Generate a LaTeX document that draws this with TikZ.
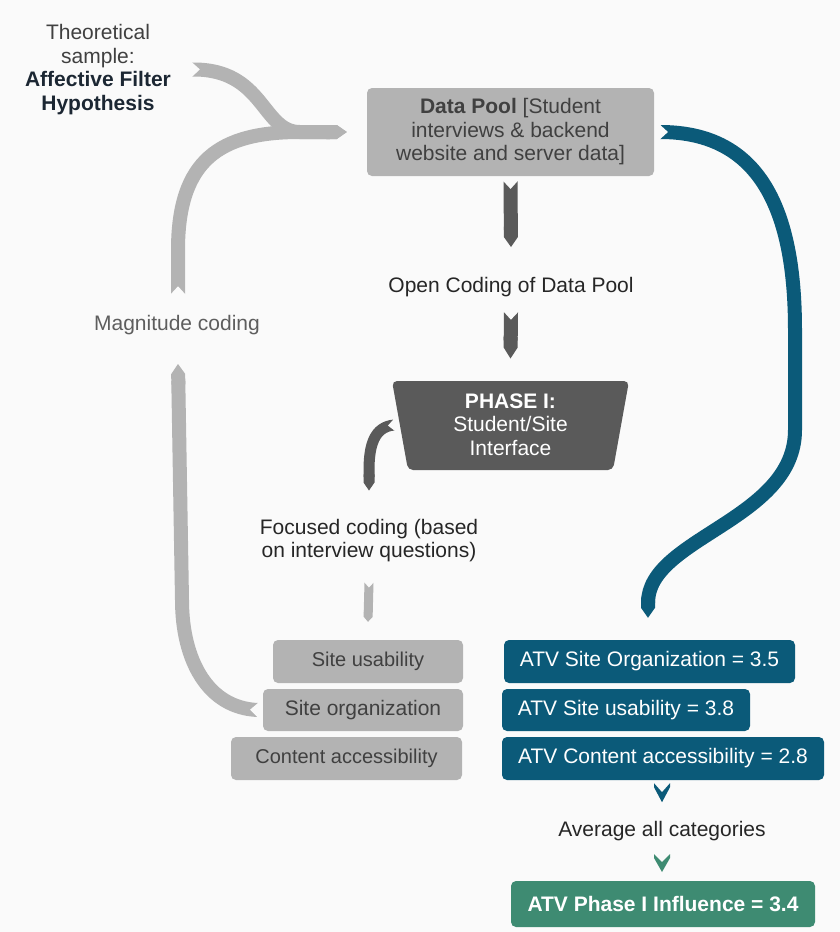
\documentclass[tikz,border=0pt]{standalone}
\usepackage{fontspec}
\setmainfont{Liberation Sans}
\usetikzlibrary{arrows.meta,decorations.markings}

\definecolor{bgc}{HTML}{FAFAFA}
\definecolor{lgray}{HTML}{B3B3B3}
\definecolor{dgray}{HTML}{5A5A5A}
\definecolor{txtgray}{HTML}{404040}
\definecolor{txtmid}{HTML}{5E5E5E}
\definecolor{txtdark}{HTML}{262626}
\definecolor{txtnavy}{HTML}{1C2733}
\definecolor{atvblue}{HTML}{0B5A79}
\definecolor{atvgreen}{HTML}{3E8B72}

\tikzset{
  % thick band with a notched tail and a pointed head: width, colour, head length
  band/.style n args={3}{draw=#2, line width=#1, line cap=butt,
    -{Triangle Cap[length=#3]},
    postaction={decorate, decoration={markings,
      mark=at position 0 with {\fill[bgc] (-1pt,0.5*#1+1pt) -- (0.55*#1,0pt) -- (-1pt,-0.5*#1-1pt) -- cycle;}}}},
  lbl/.style={inner sep=0pt, align=center, font=\fontsize{21}{23.5}\selectfont},
  graybox/.style={fill=lgray, rounded corners=5pt, inner sep=0pt, minimum height=43pt,
    text=txtgray, font=\fontsize{20}{23}\selectfont},
  atvbox/.style={fill=atvblue, rounded corners=5pt, inner sep=0pt, minimum height=43pt,
    text=white, font=\fontsize{21}{23.5}\selectfont},
}

\begin{document}
\begin{tikzpicture}[x=1pt, y=-1pt]
  \useasboundingbox[fill=bgc] (0,0) rectangle (840,932);

  % ---------- nodes ----------
  \node[lbl, text=txtgray] (theo) at (98,69.5)
    {Theoretical\\sample:\\{\color{txtnavy}\bfseries Affective Filter}\\{\color{txtnavy}\bfseries Hypothesis}};

  \node[fill=lgray, rounded corners=5pt, inner sep=0pt, minimum width=287pt, minimum height=88pt,
        text=txtgray, align=center, font=\fontsize{21}{23.5}\selectfont] (pool) at (510.5,132)
    {\textbf{Data Pool} [Student\\interviews \& backend\\website and server data]};

  \node[lbl, text=txtdark] (opencode) at (511,287) {Open Coding of Data Pool};

  % Phase I trapezium
  \fill[dgray, rounded corners=5pt] (392,381) -- (629,381) -- (613,470) -- (408,470) -- cycle;
  \coordinate (phl) at (400,425);
  \node[lbl, text=white] (phase) at (510.5,424.5)
    {\textbf{PHASE I:}\\Student/Site\\Interface};

  \node[lbl, text=txtmid] (magn) at (177,325) {Magnitude coding};

  \node[lbl, text=txtdark] (focus) at (369,540.5)
    {Focused coding (based\\on interview questions)};

  \node[graybox, minimum width=190pt] (su) at (368,661.5) {Site usability};
  \node[graybox, minimum width=200pt, minimum height=42pt, font=\fontsize{21}{23.5}\selectfont]
    (so) at (363,710) {Site organization};
  \node[graybox, minimum width=231pt] (ca) at (346.5,758.5) {Content accessibility};

  \node[atvbox, minimum width=291pt] (atvo) at (649.5,661.5) {ATV Site Organization = 3.5};
  \node[atvbox, minimum width=248pt, minimum height=42pt] (atvu) at (626,710) {ATV Site usability = 3.8};
  \node[atvbox, minimum width=322pt] (atvc) at (663,758.5) {ATV Content accessibility = 2.8};

  \node[lbl, text=txtdark] (avg) at (662,831) {Average all categories};

  \node[fill=atvgreen, rounded corners=5pt, inner sep=0pt, minimum width=304pt, minimum height=46pt,
        text=white, font=\fontsize{21}{23.5}\selectfont\bfseries] (infl) at (663,904)
    {ATV Phase I Influence = 3.4};

  % ---------- connectors ----------
  % theoretical sample into the data pool
  \draw[band={14pt}{lgray}{10pt}] ([xshift=21pt]theo.east)
    .. controls +(72,-1) and +(-38,0) .. ([xshift=-67pt]pool.west) -- ([xshift=-20pt]pool.west);
  % magnitude coding back into the data pool
  \draw[band={14pt}{lgray}{10pt}] ([xshift=1pt,yshift=31pt]magn.center)
    -- ([xshift=1pt,yshift=75pt]magn.center)
    .. controls +(0,-90) and +(-80,0) .. ([xshift=-67pt]pool.west) -- ([xshift=-20pt]pool.west);
  % site organization to magnitude coding
  \draw[band={14pt}{lgray}{10pt}] ([xshift=-5pt]so.west)
    .. controls +(-50,-2) and +(0,60) .. ([xshift=5pt,yshift=-275pt]magn.center)
    -- ([xshift=1pt,yshift=-39pt]magn.center);

  % data pool to open coding to phase I
  \draw[band={14pt}{dgray}{10pt}] ([yshift=-5pt]pool.south) -- ([yshift=40pt]opencode.center);
  \draw[band={14pt}{dgray}{11pt}] ([yshift=-25pt]opencode.center) -- ([yshift=66pt]phase.center);

  % phase I to focused coding
  \draw[band={11pt}{dgray}{8pt}] ([xshift=-6pt]phl)
    .. controls +(-20,2) and +(0,-25) .. ([yshift=70pt]focus.center) -- ([yshift=50pt]focus.center);
  % focused coding to the categories
  \draw[band={9pt}{lgray}{5pt}] ([yshift=-42pt]focus.center) -- ([yshift=18pt]su.north);

  % data pool to the ATV scores
  \draw[band={14pt}{atvblue}{10pt}] ([xshift=6pt]pool.east)
    .. controls +(100,0) and +(0,-120) .. (795,330) -- (795,430)
    .. controls +(0,90) and +(0,-65) .. ([xshift=-1.5pt,yshift=37pt]atvo.north)
    -- ([xshift=-1.5pt,yshift=22pt]atvo.north);

  % chevrons around the averaging step
  \fill[atvblue] ([xshift=-9pt,yshift=-3pt]atvc.south)
    -- ++(8,9) -- ++(8,-9) -- ++(0,4) -- ++(-8,15) -- ++(-8,-15) -- cycle;
  \fill[atvgreen] ([xshift=-8pt,yshift=-23pt]avg.center)
    -- ++(8,8) -- ++(8,-8) -- ++(0,4) -- ++(-8,14) -- ++(-8,-14) -- cycle;
\end{tikzpicture}
\end{document}
